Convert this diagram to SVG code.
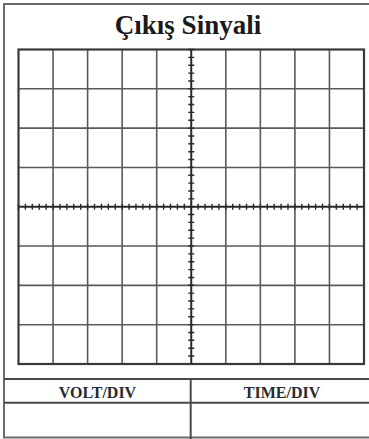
<svg xmlns="http://www.w3.org/2000/svg" width="369" height="439" viewBox="0 0 369 439">
  <style>
    .frame { fill: none; stroke: #6a6a6a; stroke-width: 2; }
    .grid { fill: none; stroke: #5a5a5a; stroke-width: 1.6; }
    .border { fill: none; stroke: #3a3a3a; stroke-width: 2.2; }
    .axis { fill: none; stroke: #2a2a2a; stroke-width: 2; }
    .ticks { fill: none; stroke: #2a2a2a; stroke-width: 6; }
    .tline { fill: none; stroke: #4a4a4a; stroke-width: 2; }
    .title { font-family: "Liberation Serif", "Times New Roman", serif; font-weight: bold; font-size: 27px; fill: #1a1a1a; text-anchor: middle; }
    .label { font-family: "Liberation Serif", "Times New Roman", serif; font-weight: bold; font-size: 16px; fill: #2a2a2a; text-anchor: middle; }
  </style>
  <rect width="369" height="439" fill="#ffffff"/>
  <g id="frame">
    <rect class="frame" x="4" y="4" width="368" height="433.5"/>
  </g>
  <g id="title">
    <text class="title" x="188" y="34">Çıkış Sinyali</text>
  </g>
  <g id="screen">
    <path class="grid" d="M53.05 49.5V364M87.6 49.5V364M122.15 49.5V364M156.7 49.5V364M225.8 49.5V364M260.35 49.5V364M294.9 49.5V364M329.45 49.5V364M18.5 88.81H364M18.5 128.13H364M18.5 167.44H364M18.5 246.06H364M18.5 285.38H364M18.5 324.69H364"/>
    <rect class="border" x="18.5" y="49.5" width="345.5" height="314.5"/>
    <path class="axis" d="M18.5 206.75H364M191.25 49.5V364"/>
    <path class="ticks" d="M17.8 206.75H364" stroke-dasharray="1.4 5.51"/>
    <path class="ticks" d="M191.25 48.8V364" stroke-dasharray="1.4 6.46"/>
  </g>
  <g id="table">
    <path class="tline" d="M4 379H369M4 402.7H369M190.7 379V439"/>
    <text class="label" x="97.5" y="397.5">VOLT/DIV</text>
    <text class="label" x="282" y="397.5">TIME/DIV</text>
  </g>
</svg>
